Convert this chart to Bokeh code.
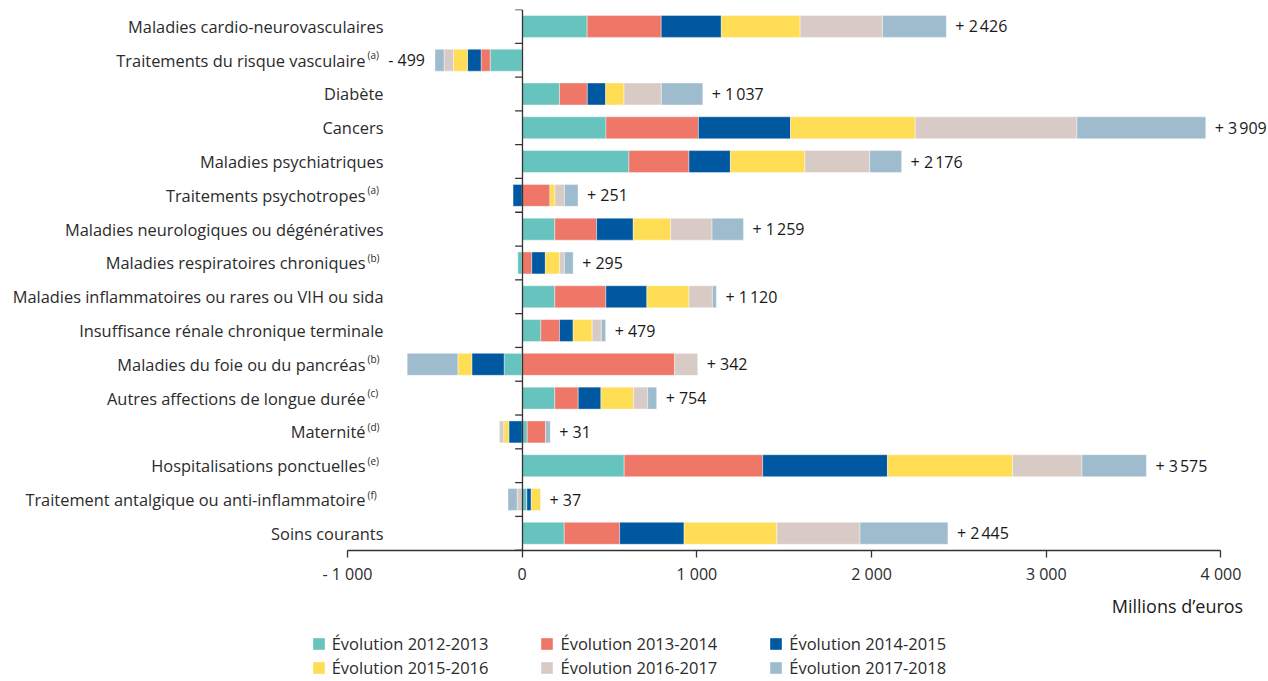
import numpy as np
from bokeh.plotting import figure
from bokeh.models import (ColumnDataSource, LinearAxis, FixedTicker, LabelSet, Label,
                          Legend, LegendItem, Range1d)
from bokeh.core.properties import value
from bokeh.embed import file_html
from bokeh.resources import INLINE

# ---------------- data ----------------
categories = [
    "Maladies cardio-neurovasculaires",
    "Traitements du risque vasculaire",
    "Diabète",
    "Cancers",
    "Maladies psychiatriques",
    "Traitements psychotropes",
    "Maladies neurologiques ou dégénératives",
    "Maladies respiratoires chroniques",
    "Maladies inflammatoires ou rares ou VIH ou sida",
    "Insuffisance rénale chronique terminale",
    "Maladies du foie ou du pancréas",
    "Autres affections de longue durée",
    "Maternité",
    "Hospitalisations ponctuelles",
    "Traitement antalgique ou anti-inflammatoire",
    "Soins courants",
]
footnotes = ["", "(a)", "", "", "", "(a)", "", "(b)", "", "", "(b)", "(c)", "(d)", "(e)", "(f)", ""]

series_names = ["Évolution 2012-2013", "Évolution 2013-2014", "Évolution 2014-2015",
                "Évolution 2015-2016", "Évolution 2016-2017", "Évolution 2017-2018"]

evol_2012_2013 = [372, -183, 214, 480, 611, 0, 187, -25, 187, 107, -103, 187, 29, 584, 27, 241]
evol_2013_2014 = [424, -52, 159, 529, 344, 159, 239, 55, 292, 107, 873, 134, 105, 793, 0, 317]
evol_2014_2015 = [344, -78, 105, 527, 237, -52, 210, 78, 235, 78, -185, 130, -76, 714, 25, 369]
evol_2015_2016 = [451, -80, 105, 714, 426, 29, 214, 82, 241, 109, -80, 187, -29, 716, 53, 531]
evol_2016_2017 = [472, -54, 214, 925, 371, 54, 237, 27, 134, 52, 132, 80, -25, 397, -29, 476]
evol_2017_2018 = [365, -52, 237, 738, 183, 78, 180, 50, 23, 25, -290, 52, 27, 369, -52, 503]

totals = [2426, -499, 1037, 3909, 2176, 251, 1259, 295, 1120, 479, 342, 754, 31, 3575, 37, 2445]

x_ticks = [-1000, 0, 1000, 2000, 3000, 4000]
x_title = "Millions d’euros"

colors = ["#66C3BE", "#EE7767", "#0058A0", "#FFDD55", "#D8CBC6", "#9FBCCE"]
series = [evol_2012_2013, evol_2013_2014, evol_2014_2015,
          evol_2015_2016, evol_2016_2017, evol_2017_2018]

FONT = "Open Sans"
TXT = "#2b2b2b"
AX = "#333333"


def fmt_num(v, sep="\u202f"):
    return f"{abs(v):,}".replace(",", sep)


def fmt_total(v):
    return ("+ " if v >= 0 else "- ") + fmt_num(v)


def fmt_tick(v):
    return ("- " if v < 0 else "") + fmt_num(v, "\u00a0")


# ---------------- figure ----------------
n = len(categories)
ys = [n - i for i in range(n)]
row_px = 540.7 / n                      # pixel height of one category row
below_rows = (681 - 9 - 540.7) / row_px  # room under the bars for axis, title, legend

p = figure(frame_width=1260, frame_height=672,
           x_range=Range1d(-2940, 4272), y_range=Range1d(0.5 - below_rows, n + 0.5),
           x_axis_type=None, y_axis_type=None,
           output_backend="svg", toolbar_location=None,
           min_border_left=8, min_border_right=0, min_border_top=9, min_border_bottom=0)
p.outline_line_color = None
p.xgrid.visible = False
p.ygrid.visible = False
p.background_fill_color = "white"

# stacked bars with separate positive / negative stacks
pos = np.zeros(n)
neg = np.zeros(n)
renderers = []
for name, vals, col in zip(series_names, series, colors):
    v = np.array(vals, dtype=float)
    left = np.where(v >= 0, pos, neg + v)
    right = np.where(v >= 0, pos + v, neg)
    pos = pos + np.clip(v, 0, None)
    neg = neg + np.clip(v, None, 0)
    src = ColumnDataSource(dict(y=ys, left=left, right=right))
    r = p.hbar(y="y", left="left", right="right", height=0.65, source=src,
               fill_color=col, line_color="white", line_width=0.4)
    renderers.append(r)

# total labels
pos_idx = [i for i, t in enumerate(totals) if t >= 0]
neg_idx = [i for i, t in enumerate(totals) if t < 0]
src_pos = ColumnDataSource(dict(x=[pos[i] for i in pos_idx], y=[ys[i] for i in pos_idx],
                                t=[fmt_total(totals[i]) for i in pos_idx]))
src_neg = ColumnDataSource(dict(x=[neg[i] for i in neg_idx], y=[ys[i] for i in neg_idx],
                                t=[fmt_total(totals[i]) for i in neg_idx]))
for src, off, al in [(src_pos, 9, "left"), (src_neg, -10, "right")]:
    p.add_layout(LabelSet(x="x", y="y", text="t", source=src, x_offset=off,
                          text_align=al, text_baseline="middle",
                          text_font=value(FONT), text_font_size="16px",
                          text_color="#1a1a1a"))

# category labels (screen x) + footnote superscripts
has_sup = [1 if f else 0 for f in footnotes]
cat_src = ColumnDataSource(dict(y=ys, t=categories, lx=[375 - 18 * s for s in has_sup]))
p.add_layout(LabelSet(x="lx", y="y", text="t", source=cat_src, x_units="screen",
                      text_align="right", text_baseline="middle",
                      text_font=value(FONT), text_font_size="16.4px", text_color=TXT))
sup_idx = [i for i, f in enumerate(footnotes) if f]
sup_src = ColumnDataSource(dict(y=[ys[i] for i in sup_idx], t=[footnotes[i] for i in sup_idx],
                                sx=[359] * len(sup_idx)))
p.add_layout(LabelSet(x="sx", y="y", text="t", source=sup_src, x_units="screen", y_offset=5,
                      text_align="left", text_baseline="middle",
                      text_font=value(FONT), text_font_size="10px", text_color=TXT))

# vertical axis line at zero, ticks between categories pointing left
yaxis = LinearAxis(fixed_location=0, bounds=(0.5, n + 0.5),
                   ticker=FixedTicker(ticks=[]),
                   major_tick_in=0, major_tick_out=0, minor_tick_in=0, minor_tick_out=0,
                   axis_line_color=AX, axis_line_width=1.3)
p.add_layout(yaxis, "left")
bounds_y = [k + 0.5 for k in range(n + 1)]
p.ray(x=[0] * len(bounds_y), y=bounds_y, length=7, length_units="screen",
      angle=np.pi, line_color=AX, line_width=1.3)

# bottom axis drawn at the foot of the bars
xaxis = LinearAxis(fixed_location=0.5, bounds=(x_ticks[0], x_ticks[-1]),
                   ticker=FixedTicker(ticks=x_ticks),
                   major_label_overrides={t: fmt_tick(t) for t in x_ticks},
                   major_tick_in=0, major_tick_out=7, minor_tick_in=0, minor_tick_out=0,
                   major_label_standoff=6,
                   axis_line_color=AX, axis_line_width=1.3,
                   major_tick_line_color=AX, major_tick_line_width=1.3,
                   major_label_text_font=FONT, major_label_text_font_size="16px",
                   major_label_text_color=TXT)
p.add_layout(xaxis, "below")

p.add_layout(Label(x=1234.7, y=76, x_units="screen", y_units="screen", text=x_title,
                   text_align="right", text_baseline="middle",
                   text_font=FONT, text_font_size="18px", text_color="#1a1a1a"))

# legends: two rows of three
for row, ly in [(0, 26), (1, 2)]:
    items = [LegendItem(label=series_names[k], renderers=[renderers[k]])
             for k in range(row * 3, row * 3 + 3)]
    leg = Legend(items=items, orientation="horizontal", location=(302.7, ly),
                 spacing=51, padding=0, margin=0,
                 glyph_width=15, glyph_height=15, label_standoff=6, label_height=20,
                 label_text_font=FONT, label_text_font_size="16.5px", label_text_color=TXT,
                 border_line_color=None, background_fill_alpha=0)
    p.add_layout(leg, "center")

open("out.html", "w").write(file_html(p, INLINE))
